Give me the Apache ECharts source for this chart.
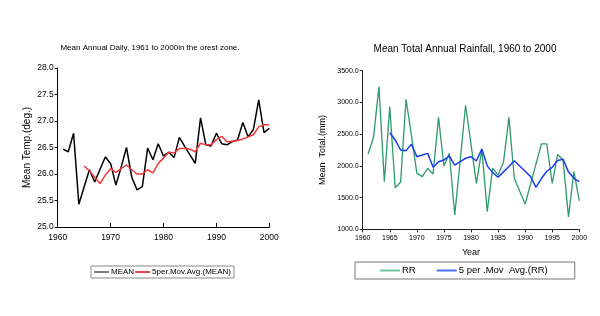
<!DOCTYPE html>
<html>
<head>
<meta charset="utf-8">
<script src="https://cdn.jsdelivr.net/npm/echarts@6/dist/echarts.min.js"></script>
<style>
html,body{margin:0;padding:0;background:#fff;}
#c{width:600px;height:316px;}
</style>
</head>
<body>
<div id="c"></div>
<script>
// ---- data ----
var years = [1961,1962,1963,1964,1965,1966,1967,1968,1969,1970,
             1971,1972,1973,1974,1975,1976,1977,1978,1979,1980,
             1981,1982,1983,1984,1985,1986,1987,1988,1989,1990,
             1991,1992,1993,1994,1995,1996,1997,1998,1999,2000];
var maYears = [1965,1966,1967,1968,1969,1970,
             1971,1972,1973,1974,1975,1976,1977,1978,1979,1980,
             1981,1982,1983,1984,1985,1986,1987,1988,1989,1990,
             1991,1992,1993,1994,1995,1996,1997,1998,1999,2000];
var tempMean = [26.47,26.42,26.77,25.43,25.76,26.08,25.85,26.09,26.32,26.20,
                25.79,26.13,26.50,25.94,25.70,25.76,26.49,26.27,26.57,26.34,
                26.41,26.31,26.69,26.52,26.36,26.20,27.06,26.55,26.53,26.77,
                26.57,26.55,26.61,26.64,26.97,26.70,26.84,27.40,26.78,26.86];
var tempMA = [26.15,26.06,25.94,25.82,25.98,26.10,
              26.03,26.10,26.17,26.08,26.00,26.00,26.08,26.02,26.20,26.30,
              26.41,26.40,26.48,26.48,26.47,26.42,26.58,26.55,26.55,26.65,
              26.71,26.61,26.62,26.63,26.66,26.70,26.74,26.89,26.93,26.93];
var rainRR = [2187,2450,3248,1751,2933,1656,1745,3048,2480,1885,
              1830,1961,1872,2765,1998,2198,1226,2080,2955,2340,
              1725,2260,1278,1965,1856,2060,2765,1804,1600,1399,
              1710,2030,2345,2345,1722,2180,2092,1195,1908,1448];
var rainMA = [2523,2408,2250,2240,2340,2145,
              2170,2197,1977,2066,2093,2155,2013,2066,2120,2145,
              2077,2266,2000,1893,1820,1905,1990,2080,1998,1914,
              1830,1662,1800,1915,1977,2085,2103,1908,1804,1750];
var titleLeft = 'Mean Annual Daily, 1961 to 2000in the orest zone.';
var titleRight = 'Mean Total Annual Rainfall, 1960 to 2000';
var nameMean = 'MEAN', nameMeanMA = '5per.Mov.Avg.(MEAN)';
var nameRR = 'RR', nameRRMA = '5 per .Mov  Avg.(RR)';

function pairs(xs, ys){ return xs.map(function(x,i){ return [x, ys[i]]; }); }

var FONT = '"Liberation Sans", Arial, sans-serif';
var chart = echarts.init(document.getElementById('c'), null, {renderer:'canvas'});
chart.setOption({
  animation:false,
  backgroundColor:'#fff',
  textStyle:{fontFamily:FONT},
  title:[
    {text:titleLeft, left:145, top:39, textAlign:'center',
     textStyle:{fontSize:8, fontWeight:'normal', color:'#000', fontFamily:FONT}},
    {text:titleRight, left:460, top:39, textAlign:'center',
     textStyle:{fontSize:10, fontWeight:'normal', color:'#000', fontFamily:FONT}}
  ],
  legend:[
    {left:91, top:266, orient:'horizontal', padding:[2,3,2,3], itemGap:1,
     icon:'rect', itemWidth:15, itemHeight:2, borderColor:'#888', borderWidth:1,
     textStyle:{fontSize:8, color:'#000', fontFamily:FONT, padding:[0,0,0,-3]},
     data:[{name:nameMean, itemStyle:{color:'#808080'}},
           {name:nameMeanMA, itemStyle:{color:'#f04040'}}]},
    {left:355, top:262, orient:'horizontal', padding:[3,27,3,25], itemGap:21,
     icon:'rect', itemWidth:20, itemHeight:2, borderColor:'#777', borderWidth:1,
     textStyle:{fontSize:9.5, color:'#000', fontFamily:FONT, lineHeight:11, padding:[0,0,0,-3]},
     data:[{name:nameRR, itemStyle:{color:'#6cc4a0'}},
           {name:nameRRMA, itemStyle:{color:'#4a70f0'}}]}
  ],
  grid:[
    {left:57.7, top:68, width:211.6, height:159},
    {left:362.7, top:70.7, width:216.6, height:158.6}
  ],
  xAxis:[
    {type:'value', gridIndex:0, min:1960, max:2000, interval:10,
     axisLine:{lineStyle:{color:'#000', width:1}},
     axisTick:{inside:true, length:4, lineStyle:{color:'#000'}},
     splitLine:{show:false},
     axisLabel:{fontSize:8.5, color:'#000', margin:6, fontFamily:FONT,
                formatter:function(v){return String(v);}}},
    {type:'value', gridIndex:1, min:1960, max:2000, interval:5,
     name:'Year', nameLocation:'middle', nameGap:19,
     nameTextStyle:{fontSize:9, color:'#000', fontFamily:FONT},
     axisLine:{lineStyle:{color:'#222', width:1}},
     axisTick:{inside:false, length:3, lineStyle:{color:'#222'}},
     splitLine:{show:false},
     axisLabel:{fontSize:7, color:'#000', margin:5, fontFamily:FONT,
                formatter:function(v){return String(v);}}}
  ],
  yAxis:[
    {type:'value', gridIndex:0, min:25, max:28, interval:0.5,
     name:'Mean Temp.(deg.)', nameLocation:'middle', nameGap:25, nameRotate:90,
     nameTextStyle:{fontSize:10, color:'#000', fontFamily:FONT},
     axisLine:{show:true, lineStyle:{color:'#000', width:1}},
     axisTick:{show:true, length:3, lineStyle:{color:'#000'}},
     splitLine:{show:false},
     axisLabel:{fontSize:8.5, color:'#000', margin:4, fontFamily:FONT,
                formatter:function(v){return v.toFixed(1);}}},
    {type:'value', gridIndex:1, min:1000, max:3500, interval:500,
     name:'Mean  Total.(mm)', nameLocation:'middle', nameGap:36, nameRotate:90,
     nameTextStyle:{fontSize:9, color:'#000', fontFamily:FONT},
     axisLine:{show:true, lineStyle:{color:'#222', width:1}},
     axisTick:{show:true, length:3, lineStyle:{color:'#222'}},
     splitLine:{show:false},
     axisLabel:{fontSize:7, color:'#000', margin:4, fontFamily:FONT,
                formatter:function(v){return v.toFixed(1);}}}
  ],
  series:[
    {name:nameMean, type:'line', xAxisIndex:0, yAxisIndex:0, symbol:'none',
     data:pairs(years, tempMean), lineStyle:{color:'#000', width:1.5}, itemStyle:{color:'#000'}},
    {name:nameMeanMA, type:'line', xAxisIndex:0, yAxisIndex:0, symbol:'none',
     data:pairs(maYears, tempMA), lineStyle:{color:'#f03a3a', width:1.5}, itemStyle:{color:'#f03a3a'}},
    {name:nameRR, type:'line', xAxisIndex:1, yAxisIndex:1, symbol:'none',
     data:pairs(years, rainRR), lineStyle:{color:'#2e9a6c', width:1.3}, itemStyle:{color:'#2e9a6c'}},
    {name:nameRRMA, type:'line', xAxisIndex:1, yAxisIndex:1, symbol:'none',
     data:pairs(maYears, rainMA), lineStyle:{color:'#1a3cf0', width:1.5}, itemStyle:{color:'#1a3cf0'}}
  ]
});
</script>
</body>
</html>
